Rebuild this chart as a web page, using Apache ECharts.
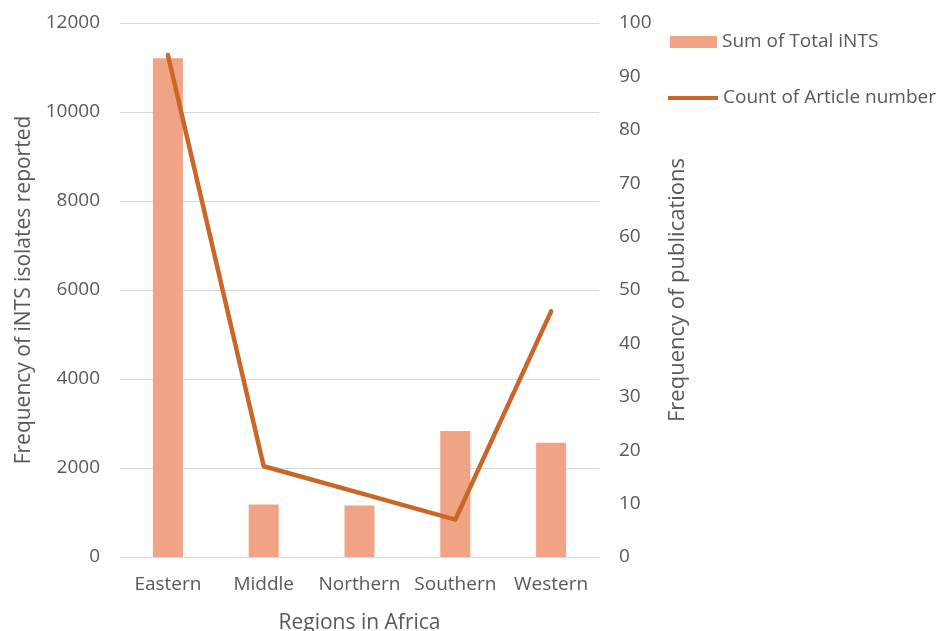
<!DOCTYPE html>
<html>
<head>
<meta charset="utf-8">
<script src="https://cdn.jsdelivr.net/npm/echarts@6/dist/echarts.min.js"></script>
<style>
  html, body { margin: 0; padding: 0; background: #ffffff; }
  #chart { width: 948px; height: 631px; }
</style>
</head>
<body>
<div id="chart"></div>
<script>
// Regions of Africa and the reported iNTS data per region
const regions = ['Eastern', 'Middle', 'Northern', 'Southern', 'Western'];
const totalINTS = [11210, 1180, 1160, 2830, 2570];
const articleCount = [94, 17, 12, 7, 46];

const leftTicks = { min: 0, max: 12000, interval: 2000 };
const rightTicks = { min: 0, max: 100, interval: 10 };

const textColor = '#595959';
const fontFamily = '"Open Sans", "Noto Sans", sans-serif';
const barColor = '#F0A385';
const lineColor = '#CB6629';

const chart = echarts.init(document.getElementById('chart'), null, { renderer: 'canvas' });

chart.setOption({
  animation: false,
  backgroundColor: '#ffffff',
  textStyle: { fontFamily: fontFamily, color: textColor },
  grid: {
    left: 120, right: 349, top: 23, bottom: 74,
    containLabel: false,
    outerBoundsMode: 'none'
  },
  legend: [
    {
      data: [{ name: 'Sum of Total iNTS', icon: 'rect' }],
      left: 665, top: 27,
      itemWidth: 47, itemHeight: 12,
      textStyle: { fontFamily: fontFamily, fontSize: 19, color: textColor, lineHeight: 20 },
      selectedMode: false
    },
    {
      data: [{ name: 'Count of Article number', icon: 'rect' }],
      left: 663, top: 83,
      itemWidth: 50, itemHeight: 4,
      textStyle: { fontFamily: fontFamily, fontSize: 19, color: textColor, lineHeight: 20 },
      selectedMode: false
    }
  ],
  xAxis: {
    type: 'category',
    data: regions,
    name: 'Regions in Africa',
    nameLocation: 'middle',
    nameGap: 56,
    nameTextStyle: { fontSize: 21, color: textColor, fontFamily: fontFamily },
    axisLine: { show: true, lineStyle: { color: '#d9d9d9', width: 1 } },
    axisTick: { show: false },
    axisLabel: {
      interval: 0, hideOverlap: false,
      fontSize: 19, color: textColor, margin: 18, fontFamily: fontFamily
    },
    splitLine: { show: false }
  },
  yAxis: [
    {
      type: 'value',
      min: leftTicks.min, max: leftTicks.max, interval: leftTicks.interval,
      name: 'Frequency of iNTS isolates reported',
      nameLocation: 'middle',
      nameGap: 85,
      nameRotate: 90,
      nameTextStyle: { fontSize: 21, color: textColor, fontFamily: fontFamily },
      axisLine: { show: false },
      axisTick: { show: false },
      axisLabel: {
        fontSize: 19, color: textColor, margin: 20, fontFamily: fontFamily,
        formatter: (v) => String(v)
      },
      splitLine: { show: true, lineStyle: { color: '#d9d9d9', width: 1 } }
    },
    {
      type: 'value',
      position: 'right',
      min: rightTicks.min, max: rightTicks.max, interval: rightTicks.interval,
      name: 'Frequency of publications',
      nameLocation: 'middle',
      nameGap: 68,
      nameRotate: 90,
      nameTextStyle: { fontSize: 22, color: textColor, fontFamily: fontFamily },
      axisLine: { show: false },
      axisTick: { show: false },
      axisLabel: {
        fontSize: 19, color: textColor, margin: 20, fontFamily: fontFamily,
        formatter: (v) => String(v)
      },
      splitLine: { show: false }
    }
  ],
  series: [
    {
      name: 'Sum of Total iNTS',
      type: 'bar',
      yAxisIndex: 0,
      data: totalINTS,
      barWidth: 30,
      itemStyle: { color: barColor }
    },
    {
      name: 'Count of Article number',
      type: 'line',
      yAxisIndex: 1,
      data: articleCount,
      symbol: 'none',
      lineStyle: { color: lineColor, width: 4.5, join: 'round', cap: 'round' },
      itemStyle: { color: lineColor }
    }
  ]
});
</script>
</body>
</html>
